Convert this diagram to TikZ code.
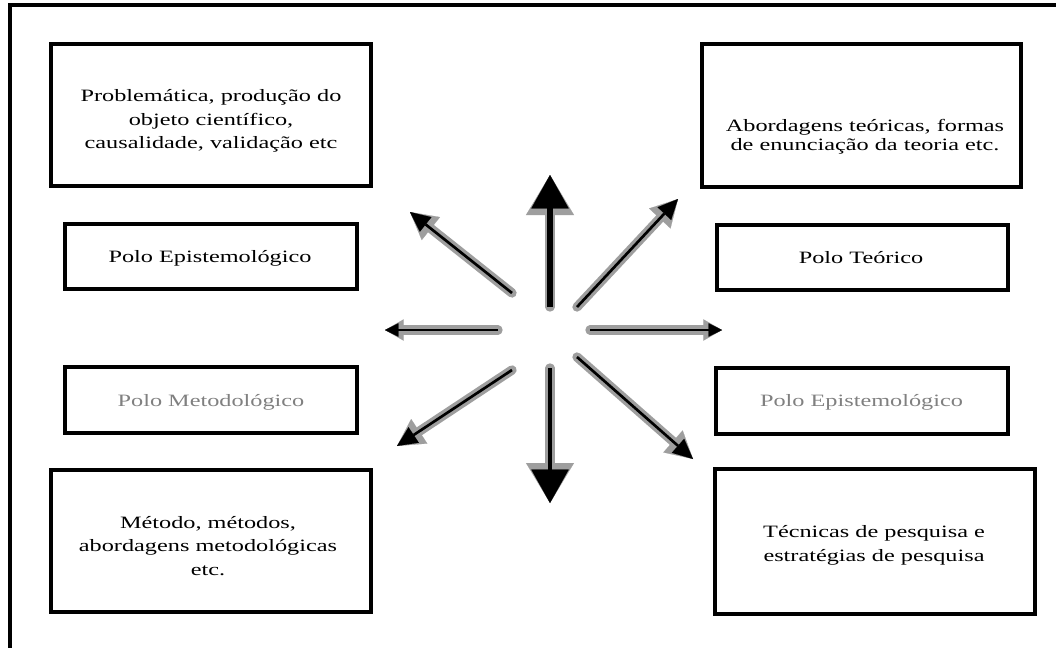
\documentclass[tikz,border=0pt]{standalone}
\usepackage{fontspec}
\setmainfont[FakeStretch=1.4]{Liberation Serif}
\usetikzlibrary{arrows.meta}
\tikzset{
  box/.style={draw=black, line width=2.3pt, inner sep=0pt, fill=white},
  lbl/.style={align=center, inner sep=0pt, font=\fontsize{13}{17.6}\selectfont},
  graylbl/.style={lbl, text=black!50},
  halo/.style={draw=black!38, line width=7pt, line cap=round},
  core/.style={draw=black, line width=2pt},
  bighalo/.style={-{Triangle[length=30pt,width=36pt,line width=0.1pt]}},
  bighead/.style={-{Triangle[length=25pt,width=28pt,line width=0.1pt]}},
  midhalo/.style={-{Triangle[length=20pt,width=22pt,line width=0.1pt]}},
  midhead/.style={-{Triangle[length=15pt,width=14pt,line width=0.1pt]}},
  smallhalo/.style={-{Triangle[length=14pt,width=16pt,line width=0.1pt]}},
  smallhead/.style={-{Triangle[length=10pt,width=10pt,line width=0.1pt]}},
}
\begin{document}
\begin{tikzpicture}[x=0.75pt,y=-0.75pt]
\useasboundingbox (0,0) rectangle (1056,647);
\fill[white] (0,0) rectangle (1056,647);
% outer frame (only top and left visible)
\draw[line width=2.6pt] (10,660) -- (10,5) -- (1070,5);

% boxes
\node[box, minimum width=240pt, minimum height=106.5pt] (tl) at (211,115) {};
\node[box, minimum width=239.25pt, minimum height=107.25pt] (tr) at (861.5,115.5) {};
\node[box, minimum width=219pt, minimum height=48.75pt] (pel) at (211,256.5) {};
\node[box, minimum width=218.25pt, minimum height=48.75pt] (pt) at (862.5,257.5) {};
\node[box, minimum width=219pt, minimum height=49.5pt] (pm) at (211,400) {};
\node[box, minimum width=219pt, minimum height=49.5pt] (per) at (862,401) {};
\node[box, minimum width=240pt, minimum height=106.5pt] (bl) at (211,541) {};
\node[box, minimum width=240pt, minimum height=108.75pt] (br) at (875,541.5) {};

% texts
\node[lbl] (tlt) at (211,121) {Problemática, produção do\\objeto científico,\\causalidade, validação etc};
\node[lbl, font=\fontsize{13}{14.25}\selectfont] (trt) at (865,136.5) {Abordagens teóricas, formas\\de enunciação da teoria etc.};
\node[lbl] (pelt) at (210,258) {Polo Epistemológico};
\node[lbl] (ptt) at (861,258) {Polo Teórico};
\node[graylbl] (pmt) at (211,402) {Polo Metodológico};
\node[graylbl] (pert) at (861.5,402) {Polo Epistemológico};
\node[lbl] (blt) at (208,546) {Método, métodos,\\abordagens metodológicas\\etc.};
\node[lbl, font=\fontsize{13}{18}\selectfont] (brt) at (874,545) {Técnicas de pesquisa e\\estratégias de pesquisa};

% arrow coordinates
\coordinate (us) at (550,307);  \coordinate (ue) at (550,175);
\coordinate (ds) at (550,368);  \coordinate (de) at (550,503);
\coordinate (uls) at (512,293); \coordinate (ule) at (410,212);
\coordinate (urs) at (577,307); \coordinate (ure) at (678,199);
\coordinate (dls) at (512,370); \coordinate (dle) at (397,446);
\coordinate (drs) at (577,357); \coordinate (dre) at (693,459);
\coordinate (ls) at (498,330);  \coordinate (le) at (385,330);
\coordinate (rs) at (590,330);  \coordinate (re) at (722,330);

% halos
\draw[halo, bighalo] (us) -- (ue);
\draw[halo, bighalo] (ds) -- (de);
\foreach \a/\b in {uls/ule, urs/ure, dls/dle, drs/dre}
  \draw[halo, midhalo] (\a) -- (\b);
\foreach \a/\b in {ls/le, rs/re}
  \draw[halo, smallhalo] (\a) -- (\b);
% cores
\draw[core, line width=4pt, bighead] (us) -- (ue);
\draw[core, line width=3pt, bighead] (ds) -- (de);
\foreach \a/\b in {uls/ule, urs/ure, dls/dle, drs/dre}
  \draw[core, midhead] (\a) -- (\b);
\foreach \a/\b in {ls/le, rs/re}
  \draw[core, smallhead] (\a) -- (\b);
\end{tikzpicture}
\end{document}
